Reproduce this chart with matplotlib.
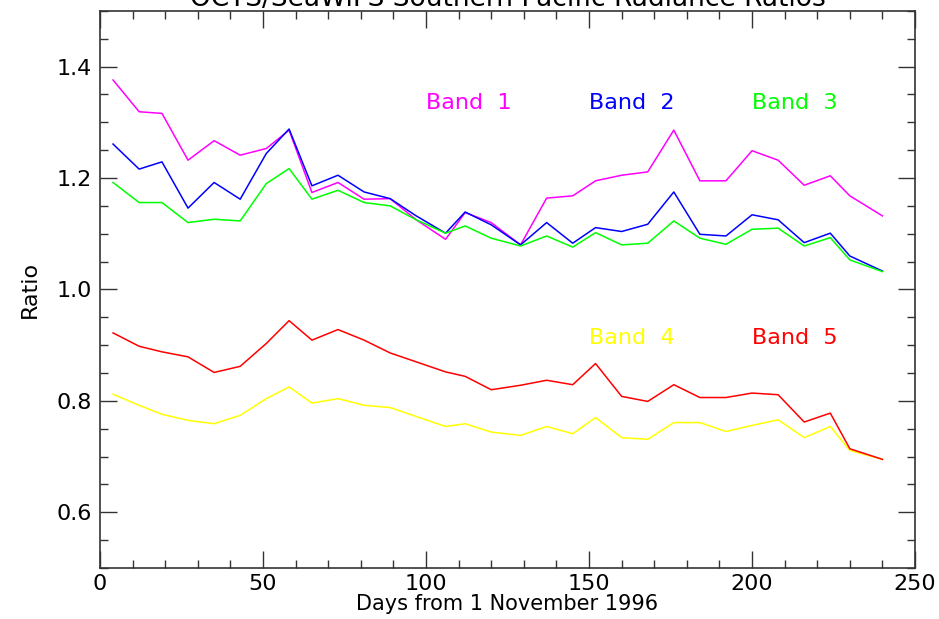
import matplotlib
matplotlib.use("Agg")
import matplotlib.pyplot as plt
from matplotlib.ticker import MultipleLocator

# 8-day composites, days since 1 Nov 1996
days = [4, 12, 19, 27, 35, 43, 51, 58, 65, 73, 81, 89, 97, 106, 112, 120,
        129, 137, 145, 152, 160, 168, 176, 184, 192, 200, 208, 216, 224, 230, 240]

band1 = [1.376, 1.319, 1.316, 1.232, 1.267, 1.241, 1.253, 1.286, 1.174, 1.192,
         1.162, 1.163, 1.125, 1.090, 1.138, 1.120, 1.080, 1.164, 1.168, 1.195,
         1.205, 1.211, 1.286, 1.195, 1.195, 1.249, 1.232, 1.187, 1.204, 1.168, 1.132]
band2 = [1.261, 1.216, 1.229, 1.146, 1.192, 1.162, 1.244, 1.288, 1.186, 1.205,
         1.175, 1.163, 1.132, 1.101, 1.139, 1.116, 1.080, 1.120, 1.083, 1.111,
         1.104, 1.117, 1.175, 1.099, 1.096, 1.134, 1.125, 1.084, 1.101, 1.060, 1.033]
band3 = [1.192, 1.156, 1.156, 1.120, 1.126, 1.123, 1.190, 1.217, 1.162, 1.178,
         1.156, 1.150, 1.125, 1.101, 1.114, 1.092, 1.078, 1.096, 1.076, 1.102,
         1.080, 1.083, 1.123, 1.092, 1.081, 1.108, 1.110, 1.078, 1.093, 1.053, 1.032]
band4 = [0.812, 0.792, 0.776, 0.765, 0.759, 0.774, 0.804, 0.825, 0.796, 0.804,
         0.792, 0.788, 0.772, 0.754, 0.759, 0.744, 0.738, 0.754, 0.741, 0.770,
         0.734, 0.731, 0.761, 0.761, 0.745, 0.756, 0.766, 0.734, 0.754, 0.711, 0.695]
band5 = [0.922, 0.898, 0.888, 0.879, 0.851, 0.862, 0.903, 0.944, 0.909, 0.928,
         0.909, 0.886, 0.870, 0.852, 0.844, 0.820, 0.828, 0.837, 0.829, 0.867,
         0.808, 0.799, 0.829, 0.806, 0.806, 0.814, 0.811, 0.762, 0.778, 0.714, 0.695]

band_names = ["Band  1", "Band  2", "Band  3", "Band  4", "Band  5"]
band_colors = ["#ff00ff", "#0000ff", "#00ff00", "#ffff00", "#ff0000"]
# where each band's name is written, in data units
label_pos = [(100, 1.335), (150, 1.335), (200, 1.335), (150, 0.913), (200, 0.913)]

plt.rcParams["font.family"] = "DejaVu Sans"

fig = plt.figure(figsize=(9.39, 6.19), dpi=100)
ax = fig.add_axes([0.1065, 0.0824, 0.868, 0.900])

for vals, col in zip([band1, band2, band3, band4, band5], band_colors):
    ax.plot(days, vals, color=col, lw=1.1)

for name, col, (x, y) in zip(band_names, band_colors, label_pos):
    ax.text(x, y, name, color=col, fontsize=16, va="center", ha="left")

ax.set_xlim(0, 250)
ax.set_ylim(0.5, 1.5)
ax.xaxis.set_major_locator(MultipleLocator(50))
ax.xaxis.set_minor_locator(MultipleLocator(10))
ax.yaxis.set_major_locator(MultipleLocator(0.2))
ax.yaxis.set_minor_locator(MultipleLocator(0.05))
ax.yaxis.set_major_formatter(lambda v, p: f"{v:.1f}")

ax.tick_params(which="both", direction="in", top=True, right=True,
               color="#333333", width=1.0, labelsize=16)
ax.tick_params(axis="x", pad=4)
ax.tick_params(axis="y", pad=6)
ax.tick_params(which="major", length=12)
ax.tick_params(which="minor", length=6)
for s in ax.spines.values():
    s.set_color("#333333")
    s.set_linewidth(1.2)

ax.set_xlabel("Days from 1 November 1996", fontsize=15, labelpad=0)
ax.set_ylabel("Ratio", fontsize=16, labelpad=12)

# title sits right at the top edge of the figure
fig.text(0.541, 1 - 6 / 619, "OCTS/SeaWiFS Southern Pacific Radiance Ratios",
         fontsize=19, ha="center", va="baseline")

fig.savefig("out.png", dpi=100)
